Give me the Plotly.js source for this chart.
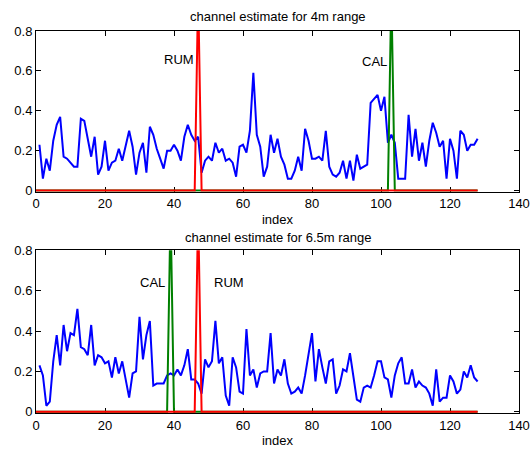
<!DOCTYPE html>
<html>
<head>
<meta charset="utf-8">
<script src="https://cdn.plot.ly/plotly-3.0.1.min.js"></script>
<style>html,body{margin:0;padding:0;background:#fff;}#chart{width:530px;height:450px;}</style>
</head>
<body>
<div id="chart"></div>
<script>
// ---- data ----
const index = [];
for (let i = 1; i <= 128; i++) index.push(i);

const est4m = [
  0.23,0.06,0.16,0.10,0.25,0.33,0.37,0.17,0.16,0.14,
  0.12,0.12,0.36,0.35,0.25,0.17,0.27,0.08,0.12,0.25,
  0.10,0.14,0.15,0.21,0.15,0.23,0.30,0.22,0.08,0.19,
  0.24,0.09,0.32,0.28,0.21,0.16,0.11,0.20,0.20,0.23,
  0.20,0.15,0.27,0.33,0.28,0.25,0.27,0.09,0.15,0.17,
  0.15,0.24,0.19,0.21,0.15,0.16,0.14,0.07,0.22,0.23,
  0.19,0.30,0.59,0.28,0.22,0.07,0.12,0.28,0.19,0.26,
  0.17,0.13,0.06,0.06,0.10,0.17,0.10,0.31,0.25,0.16,
  0.16,0.17,0.15,0.30,0.12,0.08,0.07,0.09,0.15,0.06,
  0.15,0.05,0.18,0.11,0.12,0.13,0.44,0.46,0.48,0.40,
  0.47,0.24,0.28,0.24,0.06,0.06,0.06,0.38,0.17,0.31,
  0.15,0.24,0.12,0.25,0.34,0.29,0.22,0.25,0.06,0.26,
  0.20,0.06,0.30,0.28,0.20,0.23,0.23,0.26
];

const est65m = [
  0.23,0.18,0.03,0.05,0.25,0.38,0.23,0.43,0.30,0.39,
  0.38,0.51,0.32,0.31,0.28,0.43,0.23,0.28,0.27,0.24,
  0.25,0.17,0.27,0.19,0.25,0.16,0.07,0.19,0.20,0.47,
  0.26,0.38,0.45,0.13,0.14,0.14,0.14,0.18,0.19,0.18,
  0.21,0.18,0.23,0.31,0.16,0.16,0.14,0.09,0.26,0.22,
  0.25,0.45,0.24,0.27,0.08,0.03,0.27,0.22,0.10,0.09,
  0.41,0.18,0.21,0.12,0.19,0.20,0.20,0.39,0.14,0.21,
  0.18,0.26,0.14,0.09,0.10,0.12,0.09,0.18,0.29,0.39,
  0.15,0.31,0.22,0.14,0.25,0.26,0.09,0.13,0.21,0.20,
  0.29,0.17,0.06,0.05,0.12,0.13,0.12,0.18,0.25,0.25,
  0.17,0.16,0.07,0.18,0.24,0.27,0.14,0.14,0.21,0.12,
  0.15,0.13,0.12,0.09,0.03,0.21,0.05,0.07,0.07,0.18,
  0.15,0.09,0.11,0.20,0.17,0.23,0.17,0.15
];

// marker pulses (zero baseline with one spike)
const rum4mX = [0, 46, 47, 48, 128];
const rum4mY = [0, 0, 1, 0, 0];
const cal4mX = [0, 102, 103, 104, 128];
const cal4mY = [0, 0, 1, 0, 0];
const rum65mX = [0, 46, 47, 48, 128];
const rum65mY = [0, 0, 1, 0, 0];
const cal65mX = [0, 38, 39, 40, 128];
const cal65mY = [0, 0, 1, 0, 0];

const titles = ['channel estimate for 4m range', 'channel estimate for 6.5m range'];
const xLabel = 'index';
const xTicks = [0, 20, 40, 60, 80, 100, 120, 140];
const yTicks = [0, 0.2, 0.4, 0.6, 0.8];

// ---- traces ----
const BLUE = '#0000ff', RED = '#ff0000', GREEN = '#008000';
const traces = [
  {x: index, y: est4m, xaxis: 'x', yaxis: 'y', mode: 'lines', line: {color: BLUE, width: 2}},
  {x: cal4mX, y: cal4mY, xaxis: 'x', yaxis: 'y', mode: 'lines', line: {color: GREEN, width: 2}},
  {x: rum4mX, y: rum4mY, xaxis: 'x', yaxis: 'y', mode: 'lines', line: {color: RED, width: 2}},
  {x: index, y: est65m, xaxis: 'x2', yaxis: 'y2', mode: 'lines', line: {color: BLUE, width: 2}},
  {x: cal65mX, y: cal65mY, xaxis: 'x2', yaxis: 'y2', mode: 'lines', line: {color: GREEN, width: 2}},
  {x: rum65mX, y: rum65mY, xaxis: 'x2', yaxis: 'y2', mode: 'lines', line: {color: RED, width: 2}}
];

const FONT = {family: 'Liberation Sans, Arial, sans-serif', size: 13, color: '#000'};
function xAxis(anchor) {
  return {
    anchor: anchor, range: [0, 140], tickvals: xTicks, ticks: 'inside', ticklen: 5,
    tickcolor: '#000', showline: true, linecolor: '#000', linewidth: 1, mirror: 'allticks',
    showgrid: false, zeroline: false, layer: 'below traces',
    title: {text: xLabel, font: FONT, standoff: 4}, tickfont: FONT
  };
}
function yAxis(anchor, domain) {
  return {
    anchor: anchor, domain: domain, range: [-0.006, 0.8], tickvals: yTicks, ticks: 'inside', ticklen: 5,
    tickcolor: '#000', showline: true, linecolor: '#000', linewidth: 1, mirror: 'allticks',
    showgrid: false, zeroline: false, layer: 'below traces', tickfont: FONT
  };
}

const layout = {
  width: 530, height: 450,
  margin: {l: 36, r: 11, t: 31, b: 37},
  paper_bgcolor: '#fff', plot_bgcolor: '#fff',
  showlegend: false,
  font: FONT,
  xaxis: Object.assign(xAxis('y'), {domain: [0, 1]}),
  yaxis: yAxis('x', [0.579, 1]),
  xaxis2: Object.assign(xAxis('y2'), {domain: [0, 1]}),
  yaxis2: yAxis('x2', [0, 0.426]),
  annotations: [
    {text: titles[0], xref: 'x domain', yref: 'y domain', x: 0.5, y: 1, yanchor: 'bottom', yshift: 5, showarrow: false, font: FONT},
    {text: titles[1], xref: 'x2 domain', yref: 'y2 domain', x: 0.5, y: 1, yanchor: 'bottom', yshift: 3, showarrow: false, font: FONT},
    {text: 'RUM', xref: 'x', yref: 'y', x: 36.5, y: 0.655, xanchor: 'left', showarrow: false, font: FONT},
    {text: 'CAL', xref: 'x', yref: 'y', x: 94, y: 0.645, xanchor: 'left', showarrow: false, font: FONT},
    {text: 'CAL', xref: 'x2', yref: 'y2', x: 29.6, y: 0.64, xanchor: 'left', showarrow: false, font: FONT},
    {text: 'RUM', xref: 'x2', yref: 'y2', x: 51, y: 0.64, xanchor: 'left', showarrow: false, font: FONT}
  ]
};

Plotly.newPlot('chart', traces, layout, {displayModeBar: false, staticPlot: true});
</script>
</body>
</html>
